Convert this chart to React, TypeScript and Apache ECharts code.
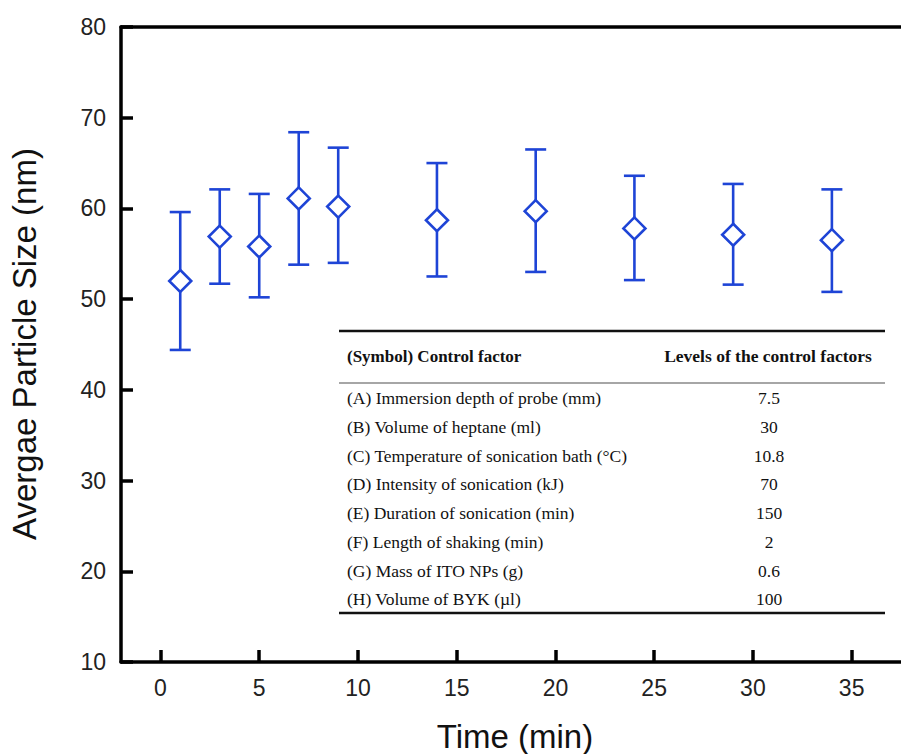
import React, { useEffect, useRef } from "react";
import * as echarts from "echarts";

const times = [1, 3, 5, 7, 9, 14, 19, 24, 29, 34];
const meanSize = [52.0, 56.9, 55.8, 61.1, 60.2, 58.7, 59.7, 57.8, 57.1, 56.5];
const upperSize = [59.6, 62.1, 61.6, 68.4, 66.7, 65.0, 66.5, 63.6, 62.7, 62.1];
const lowerSize = [44.4, 51.7, 50.2, 53.8, 54.0, 52.5, 53.0, 52.1, 51.6, 50.8];
const xTicks = [0, 5, 10, 15, 20, 25, 30, 35];

const xTitle = "Time (min)";
const yTitle = "Avergae Particle Size (nm)";

const tableHeaders = ["(Symbol) Control factor", "Levels of the control factors"];
const factorLabels = [
  "(A) Immersion depth of probe (mm)",
  "(B) Volume of heptane (ml)",
  "(C) Temperature of sonication bath (°C)",
  "(D) Intensity of sonication (kJ)",
  "(E) Duration of sonication (min)",
  "(F) Length of shaking (min)",
  "(G) Mass of ITO NPs (g)",
  "(H) Volume of BYK (µl)",
];
const factorLevels = ["7.5", "30", "10.8", "70", "150", "2", "0.6", "100"];

const BLUE = "#1e44d6";
const SANS = "'Liberation Sans', Arial, sans-serif";
const SERIF = "'Liberation Serif', 'Times New Roman', serif";

export default function App() {
  const ref = useRef<HTMLDivElement>(null);

  useEffect(() => {
    if (!ref.current) return;
    const chart = echarts.init(ref.current, undefined, { renderer: "svg" });

    const tableLeft = 339;
    const tableRight = 885;
    const textLeft = 347;
    const valueX = 769;
    const rowTop = 398;
    const rowStep = 28.75;

    const graphics: any[] = [
      {
        type: "text",
        x: 515,
        y: 736,
        style: { text: xTitle, font: `33px ${SANS}`, fill: "#111", align: "center", verticalAlign: "middle" },
      },
      {
        type: "text",
        x: 24,
        y: 344,
        rotation: Math.PI / 2,
        style: { text: yTitle, font: `33px ${SANS}`, fill: "#111", align: "center", verticalAlign: "middle" },
      },
      {
        type: "line",
        shape: { x1: tableLeft, y1: 331, x2: tableRight, y2: 331 },
        style: { stroke: "#111", lineWidth: 2.5 },
      },
      {
        type: "line",
        shape: { x1: tableLeft, y1: 383, x2: tableRight, y2: 383 },
        style: { stroke: "#888", lineWidth: 1.5 },
      },
      {
        type: "line",
        shape: { x1: tableLeft, y1: 613, x2: tableRight, y2: 613 },
        style: { stroke: "#111", lineWidth: 2.5 },
      },
      {
        type: "text",
        x: textLeft,
        y: 356,
        style: { text: tableHeaders[0], font: `bold 17px ${SERIF}`, fill: "#111", align: "left", verticalAlign: "middle" },
      },
      {
        type: "text",
        x: 768,
        y: 356,
        style: { text: tableHeaders[1], font: `bold 17.5px ${SERIF}`, fill: "#111", align: "center", verticalAlign: "middle" },
      },
    ];
    factorLabels.forEach((lab, i) => {
      graphics.push({
        type: "text",
        x: textLeft,
        y: rowTop + i * rowStep,
        style: { text: lab, font: `17.5px ${SERIF}`, fill: "#111", align: "left", verticalAlign: "middle" },
      });
      graphics.push({
        type: "text",
        x: valueX,
        y: rowTop + i * rowStep,
        style: { text: factorLevels[i], font: `17.5px ${SERIF}`, fill: "#111", align: "center", verticalAlign: "middle" },
      });
    });

    chart.setOption({
      animation: false,
      backgroundColor: "#ffffff",
      grid: { left: 121, right: 0, top: 27, bottom: 92, containLabel: false },
      xAxis: [
        {
          type: "value",
          min: -2,
          max: 37.5,
          position: "bottom",
          splitLine: { show: false },
          axisLine: { show: true, onZero: false, lineStyle: { color: "#000", width: 3.5 } },
          axisTick: { show: true, inside: true, length: 12, customValues: xTicks, lineStyle: { color: "#000", width: 3.5 } },
          axisLabel: { show: true, customValues: xTicks, margin: 14, fontSize: 23, fontFamily: SANS, color: "#222" },
        },
        {
          type: "value",
          min: -2,
          max: 37.5,
          position: "top",
          splitLine: { show: false },
          axisLine: { show: true, onZero: false, lineStyle: { color: "#000", width: 3.5 } },
          axisTick: { show: false },
          axisLabel: { show: false },
        },
      ],
      yAxis: {
        type: "value",
        min: 10,
        max: 80,
        interval: 10,
        splitLine: { show: false },
        axisLine: { show: true, onZero: false, lineStyle: { color: "#000", width: 3.5 } },
        axisTick: { show: true, inside: true, length: 12, lineStyle: { color: "#000", width: 3.5 } },
        axisLabel: { margin: 15, fontSize: 23, fontFamily: SANS, color: "#222" },
      },
      series: [
        {
          type: "custom",
          xAxisIndex: 0,
          data: times.map((t, i) => [t, lowerSize[i], upperSize[i]]),
          encode: { x: 0, y: [1, 2] },
          renderItem: (params: any, api: any) => {
            const x = api.value(0);
            const lo = api.coord([x, api.value(1)]);
            const hi = api.coord([x, api.value(2)]);
            const half = 10.5;
            const st = { stroke: BLUE, lineWidth: 2.6 };
            return {
              type: "group",
              children: [
                { type: "line", shape: { x1: lo[0], y1: lo[1], x2: hi[0], y2: hi[1] }, style: st },
                { type: "line", shape: { x1: lo[0] - half, y1: lo[1], x2: lo[0] + half, y2: lo[1] }, style: st },
                { type: "line", shape: { x1: hi[0] - half, y1: hi[1], x2: hi[0] + half, y2: hi[1] }, style: st },
              ],
            };
          },
          z: 2,
        },
        {
          type: "scatter",
          xAxisIndex: 0,
          data: times.map((t, i) => [t, meanSize[i]]),
          symbol: "diamond",
          symbolSize: [22, 22],
          itemStyle: { color: "#ffffff", borderColor: BLUE, borderWidth: 2.6, opacity: 1 },
          z: 3,
        },
      ],
      graphic: graphics,
    });

    return () => chart.dispose();
  }, []);

  return (
    <div
      ref={ref}
      style={{ position: "absolute", left: 0, top: 0, width: 901, height: 754, background: "#fff" }}
    />
  );
}
